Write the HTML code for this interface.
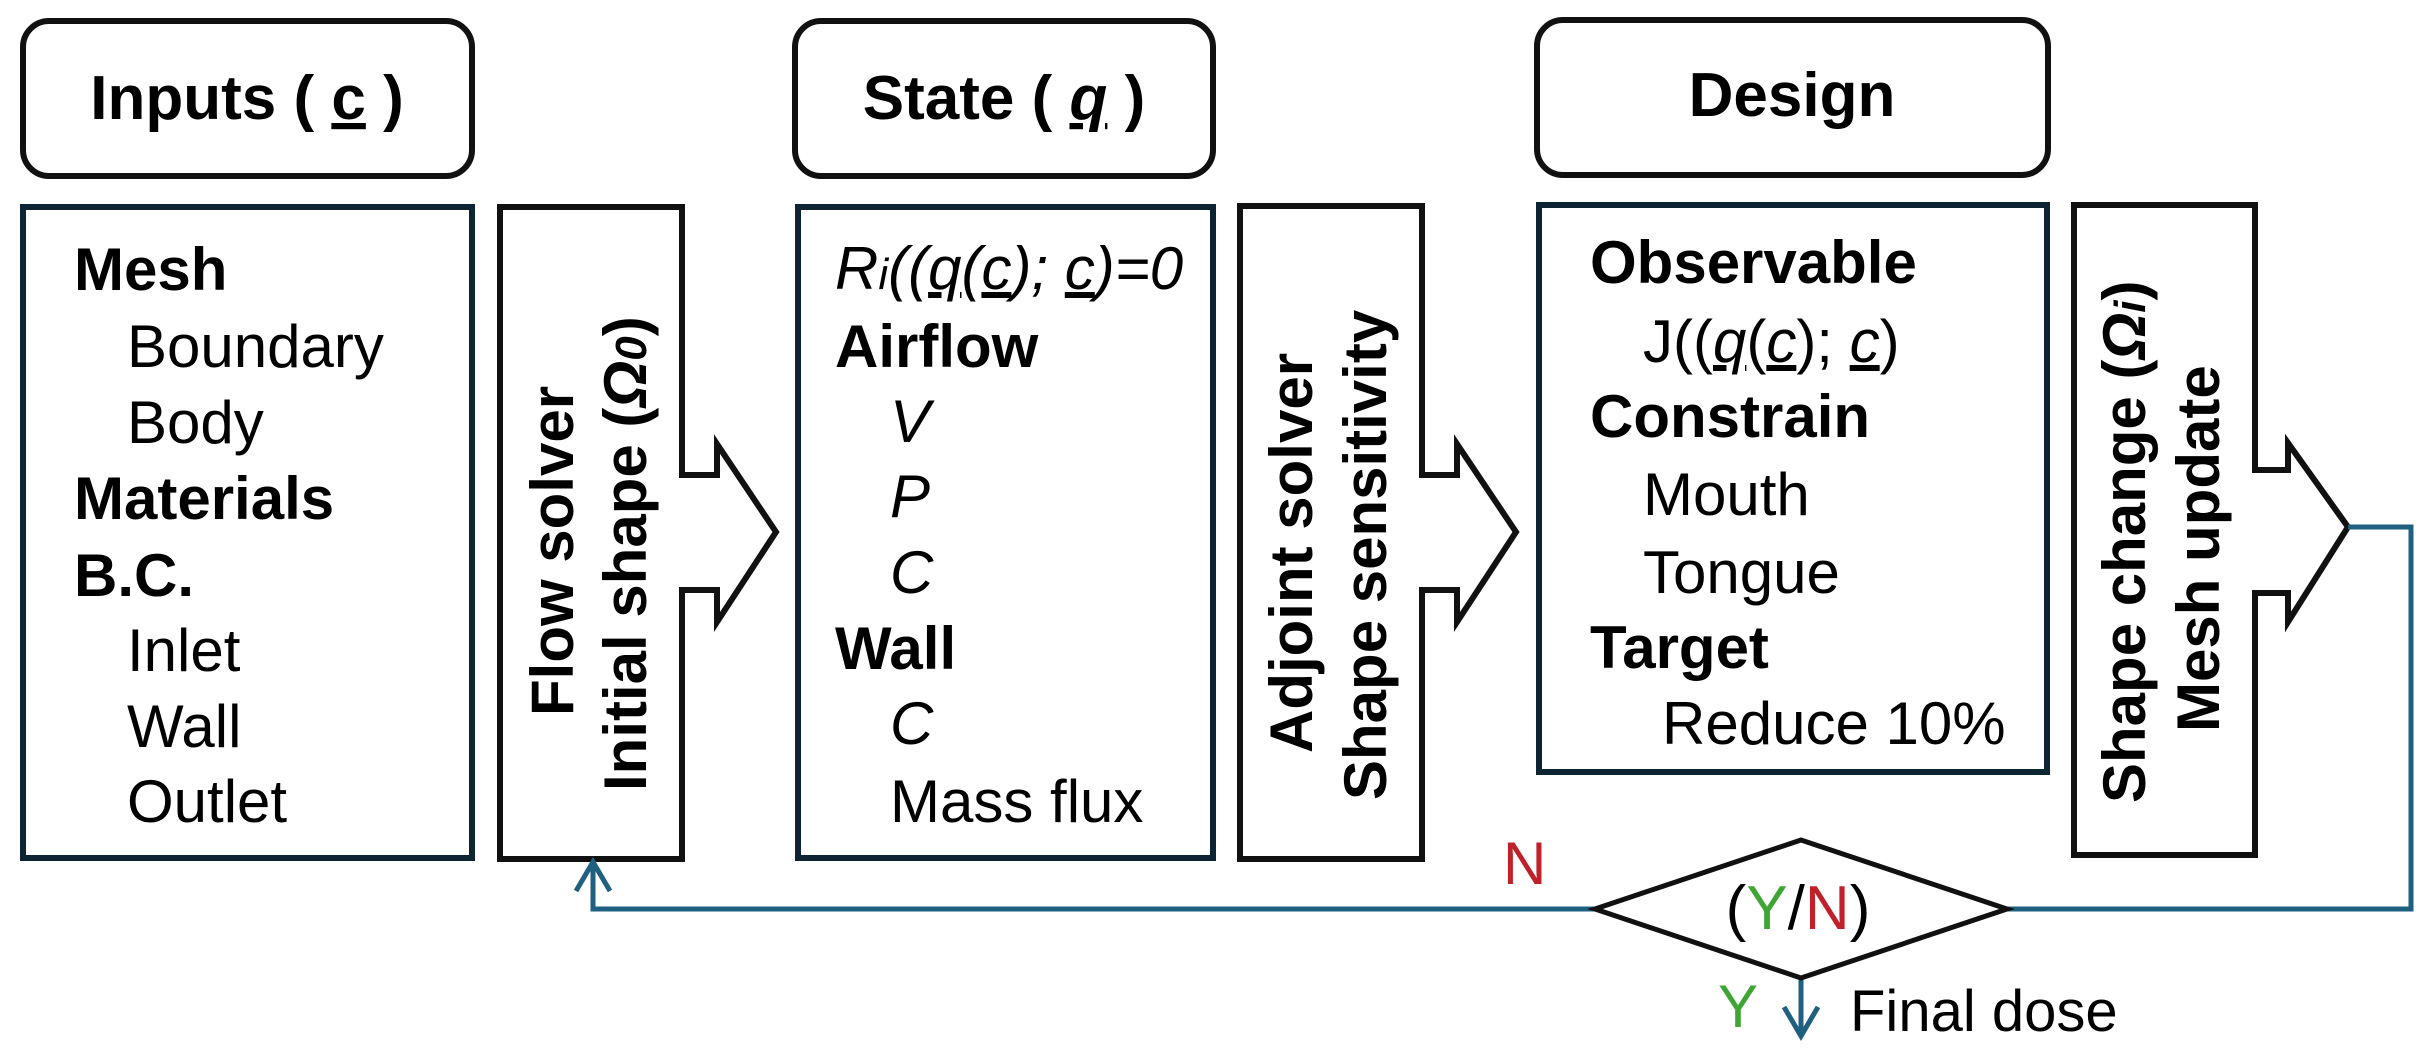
<!DOCTYPE html>
<html><head><meta charset="utf-8"><style>
html,body{margin:0;padding:0;background:#fff}
svg{display:block}
text{font-family:"Liberation Sans",Arial,sans-serif;fill:#000}
.b{font-weight:bold}
.t{font-size:62px;font-weight:bold}
.f{font-size:60px}
.i{font-style:italic}
.u{text-decoration:underline}
</style></head><body>
<svg width="2433" height="1061" viewBox="0 0 2433 1061" xmlns="http://www.w3.org/2000/svg">
<g fill="#fff" stroke="#111" stroke-width="6">
<rect x="23" y="21" width="449" height="155" rx="26"/>
<rect x="795" y="21" width="418" height="155" rx="26"/>
<rect x="1537" y="20" width="511" height="155" rx="26"/>
</g>
<text class="t" x="247" y="119" text-anchor="middle">Inputs ( <tspan class="u">c</tspan> )</text>
<text class="t" x="1004" y="119" text-anchor="middle">State ( <tspan class="u i">q</tspan> )</text>
<text class="t" x="1792" y="116" text-anchor="middle">Design</text>
<g fill="#fff" stroke="#0d2533" stroke-width="6">
<rect x="23" y="207" width="449" height="651"/>
<rect x="798" y="207" width="415" height="651"/>
<rect x="1539" y="205" width="508" height="567"/>
</g>
<g fill="#fff" stroke="#111" stroke-width="6" stroke-linejoin="miter">
<path d="M500 207 H682 V475 H717 V444 L776 532 L717 622 V590 H682 V859 H500 Z"/>
<path d="M1240 206 H1422 V475 H1457 V444 L1516 532 L1457 622 V590 H1422 V859 H1240 Z"/>
<path d="M2074 205 H2255 V470 H2288 V443 L2348 527 L2288 622 V593 H2255 V855 H2074 Z"/>
</g>
<g class="f">
<text class="b" x="74" y="290">Mesh</text>
<text x="127" y="367">Boundary</text>
<text x="127" y="443">Body</text>
<text class="b" x="74" y="519">Materials</text>
<text class="b" x="74" y="596">B.C.</text>
<text x="127" y="671">Inlet</text>
<text x="127" y="747">Wall</text>
<text x="127" y="822">Outlet</text>
</g>
<g class="f">
<text class="i" x="835" y="289">R<tspan font-size="44">i</tspan>((<tspan class="u">q</tspan>(<tspan class="u">c</tspan>); <tspan class="u">c</tspan>)=0</text>
<text class="b" x="835" y="367">Airflow</text>
<text class="i" x="890" y="442">V</text>
<text class="i" x="890" y="517">P</text>
<text class="i" x="890" y="593">C</text>
<text class="b" x="835" y="669">Wall</text>
<text class="i" x="890" y="744">C</text>
<text x="890" y="822">Mass flux</text>
</g>
<g class="f">
<text class="b" x="1590" y="283">Observable</text>
<text x="1643" y="362">J((<tspan class="i u">q</tspan>(<tspan class="i u">c</tspan>); <tspan class="i u">c</tspan>)</text>
<text class="b" x="1590" y="437">Constrain</text>
<text x="1643" y="515">Mouth</text>
<text x="1643" y="593">Tongue</text>
<text class="b" x="1590" y="668">Target</text>
<text x="1662" y="744">Reduce 10%</text>
</g>
<g class="f b">
<text transform="translate(573,716) rotate(-90)">Flow solver</text>
<text transform="translate(646,791) rotate(-90)">Initial shape (<tspan class="i">Ω</tspan><tspan class="i" font-size="44">0</tspan>)</text>
<text transform="translate(1312,753) rotate(-90)">Adjoint solver</text>
<text transform="translate(1386,800) rotate(-90)">Shape sensitivity</text>
<text transform="translate(2145,803) rotate(-90)">Shape change (<tspan class="i">Ω</tspan><tspan class="i" font-size="44">i</tspan>)</text>
<text transform="translate(2219,732) rotate(-90)">Mesh update</text>
</g>
<g fill="none" stroke="#1f5f80" stroke-width="5">
<polyline points="2348,527 2411,527 2411,909 2007,909"/>
<polyline points="1595,909 593,909 593,862"/>
<polyline points="576,891 593,862 610,891"/>
<polyline points="1801,978 1801,1036"/>
<polyline points="1784,1007 1801,1036 1818,1007"/>
</g>
<polygon points="1595,909 1801,840 2007,909 1801,978" fill="#fff" stroke="#111" stroke-width="5"/>
<text x="1798" y="929" text-anchor="middle" font-size="62">(<tspan style="fill:#3fa535">Y</tspan>/<tspan style="fill:#c0202a">N</tspan>)</text>
<text x="1503" y="884" font-size="60" style="fill:#c0202a">N</text>
<text x="1718" y="1027" font-size="60" style="fill:#3fa535">Y</text>
<text x="1850" y="1031" font-size="58">Final dose</text>
</svg>
</body></html>
